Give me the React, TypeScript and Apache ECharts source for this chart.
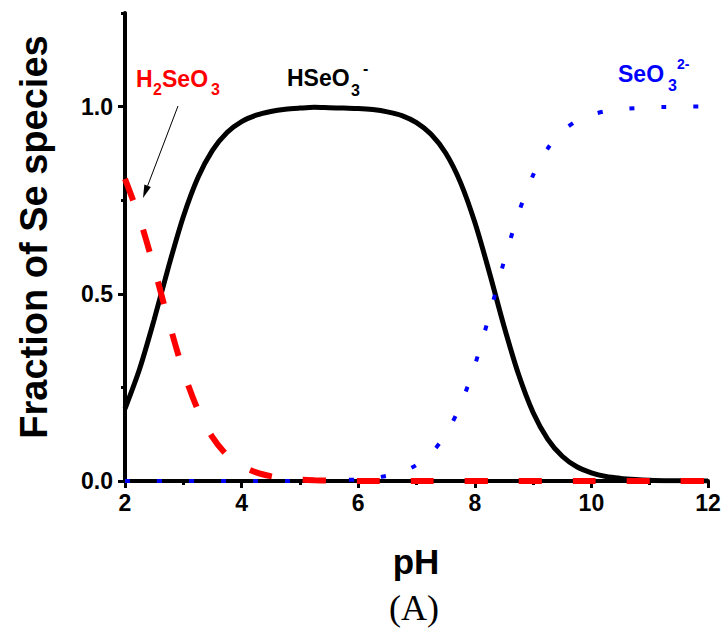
import React, { useEffect, useRef } from "react";
import * as echarts from "echarts";

const pH = [
  2.0, 2.25, 2.5, 2.75, 3.0, 3.25, 3.5, 3.75, 4.0, 4.25, 4.5, 4.75, 5.0, 5.25, 5.5, 5.75,
  6.0, 6.25, 6.5, 6.75, 7.0, 7.25, 7.5, 7.75, 8.0, 8.25, 8.5, 8.75, 9.0, 9.25, 9.5, 9.75,
  10.0, 10.25, 10.5, 10.75, 11.0, 11.25, 11.5, 11.75, 12.0,
];
const h2seo3 = [
  0.807, 0.701, 0.569, 0.426, 0.294, 0.19, 0.117, 0.069, 0.04, 0.023, 0.013, 0.007, 0.004,
  0.002, 0.001, 0.001, 0, 0, 0, 0, 0, 0, 0, 0, 0, 0, 0, 0, 0, 0, 0, 0, 0, 0, 0, 0, 0, 0, 0, 0, 0,
];
const hseo3 = [
  0.193, 0.299, 0.431, 0.574, 0.706, 0.81, 0.883, 0.931, 0.96, 0.977, 0.987, 0.993, 0.996,
  0.998, 0.997, 0.996, 0.995, 0.992, 0.986, 0.976, 0.957, 0.926, 0.876, 0.799, 0.691, 0.557,
  0.414, 0.285, 0.183, 0.112, 0.066, 0.038, 0.022, 0.012, 0.007, 0.004, 0.002, 0.001, 0.001, 0, 0,
];
const seo3 = [
  0, 0, 0, 0, 0, 0, 0, 0, 0, 0, 0, 0, 0, 0, 0.001, 0.003, 0.004, 0.008, 0.014, 0.024, 0.043,
  0.074, 0.124, 0.201, 0.309, 0.443, 0.586, 0.715, 0.817, 0.888, 0.934, 0.962, 0.978, 0.988,
  0.993, 0.996, 0.998, 0.999, 0.999, 1.0, 1.0,
];
const yMajorTicks = [0, 0.5, 1.0];
const yMinorTicks = [0.25, 0.75, 1.25];

const pairs = (ys: number[]) => pH.map((x, i) => [x, ys[i]]);

const SANS = "'Liberation Sans', Arial, sans-serif";

export default function App() {
  const ref = useRef<HTMLDivElement>(null);
  useEffect(() => {
    if (!ref.current) return;
    const chart = echarts.init(ref.current, undefined, { renderer: "svg" });
    const lbl = (text: string, x: number, y: number, size: number, color: string) => ({
      type: "text",
      x,
      y,
      style: {
        text,
        fill: color,
        font: `bold ${size}px ${SANS}`,
        align: "left",
        verticalAlign: "middle",
      },
      z: 10,
    });
    // arrow geometry
    const ax0 = 178, ay0 = 106, ax1 = 143, ay1 = 198;
    const dx = ax1 - ax0, dy = ay1 - ay0;
    const len = Math.sqrt(dx * dx + dy * dy);
    const ux = dx / len, uy = dy / len;
    const hl = 13, hw = 3.5;
    const bx = ax1 - ux * hl, by = ay1 - uy * hl;
    chart.setOption({
      animation: false,
      backgroundColor: "#ffffff",
      grid: { left: 125, right: 16, top: 13, bottom: 147, containLabel: false },
      xAxis: {
        type: "value",
        min: 2,
        max: 12,
        interval: 2,
        axisLine: { show: true, lineStyle: { color: "#000", width: 4 } },
        axisTick: { show: true, length: 7, lineStyle: { color: "#000", width: 3 } },
        minorTick: { show: true, splitNumber: 2, length: 4, lineStyle: { color: "#000", width: 3 } },
        axisLabel: { color: "#000", fontSize: 23, fontWeight: "bold", fontFamily: SANS, margin: 10 },
        splitLine: { show: false },
      },
      yAxis: [
        {
          type: "value",
          min: 0,
          max: 1.25,
          axisLine: { show: true, onZero: false, lineStyle: { color: "#000", width: 4 } },
          axisTick: { show: true, length: 7, customValues: yMajorTicks, lineStyle: { color: "#000", width: 3 } },
          axisLabel: {
            color: "#000",
            fontSize: 23,
            fontWeight: "bold",
            fontFamily: SANS,
            margin: 12,
            customValues: yMajorTicks,
            formatter: (v: number) => v.toFixed(1),
          },
          splitLine: { show: false },
        },
        {
          type: "value",
          min: 0,
          max: 1.25,
          position: "left",
          axisLine: { show: false },
          axisTick: { show: true, length: 4, customValues: yMinorTicks, lineStyle: { color: "#000", width: 3 } },
          axisLabel: { show: false },
          splitLine: { show: false },
        },
      ],
      series: [
        {
          type: "line",
          data: pairs(hseo3),
          showSymbol: false,
          smooth: 0.3,
          lineStyle: { color: "#000", width: 5 },
          z: 3,
        },
        {
          type: "line",
          data: pairs(seo3),
          showSymbol: false,
          smooth: 0.3,
          lineStyle: { color: "#0000ff", width: 4, type: [5, 27], cap: "butt" },
          z: 4,
        },
        {
          type: "line",
          data: pairs(h2seo3),
          showSymbol: false,
          smooth: 0.3,
          lineStyle: { color: "#ff0000", width: 6, type: [23, 31], cap: "butt" },
          z: 5,
        },
      ],
      graphic: [
        // H2SeO3
        lbl("H", 136, 79, 23, "#ff0000"),
        lbl("2", 153, 89, 16, "#ff0000"),
        lbl("SeO", 162, 79, 23, "#ff0000"),
        lbl("3", 211, 89, 16, "#ff0000"),
        // HSeO3-
        lbl("HSeO", 287, 78, 23, "#000"),
        lbl("3", 351, 90, 16, "#000"),
        lbl("-", 363, 68, 16, "#000"),
        // SeO3 2-
        lbl("SeO", 618, 74, 23, "#0000ff"),
        lbl("3", 668, 85, 16, "#0000ff"),
        lbl("2-", 677, 64, 14, "#0000ff"),
        // arrow
        {
          type: "line",
          shape: { x1: ax0, y1: ay0, x2: bx, y2: by },
          style: { stroke: "#000", lineWidth: 1 },
          z: 10,
        },
        {
          type: "polygon",
          shape: {
            points: [
              [ax1, ay1],
              [bx - uy * hw, by + ux * hw],
              [bx + uy * hw, by - ux * hw],
            ],
          },
          style: { fill: "#000" },
          z: 10,
        },
        // axis titles
        {
          type: "text",
          x: 34,
          y: 237,
          rotation: Math.PI / 2,
          style: {
            text: "Fraction of Se species",
            fill: "#000",
            font: `bold 38px ${SANS}`,
            align: "center",
            verticalAlign: "middle",
          },
        },
        {
          type: "text",
          x: 416,
          y: 561,
          style: {
            text: "pH",
            fill: "#000",
            font: `bold 35px ${SANS}`,
            align: "center",
            verticalAlign: "middle",
          },
        },
        {
          type: "text",
          x: 414,
          y: 608,
          style: {
            text: "(A)",
            fill: "#000",
            font: `36px 'Liberation Serif', 'Times New Roman', serif`,
            align: "center",
            verticalAlign: "middle",
          },
        },
      ],
    });
    return () => chart.dispose();
  }, []);
  return <div ref={ref} style={{ width: 724, height: 628, position: "absolute", left: 0, top: 0 }} />;
}
